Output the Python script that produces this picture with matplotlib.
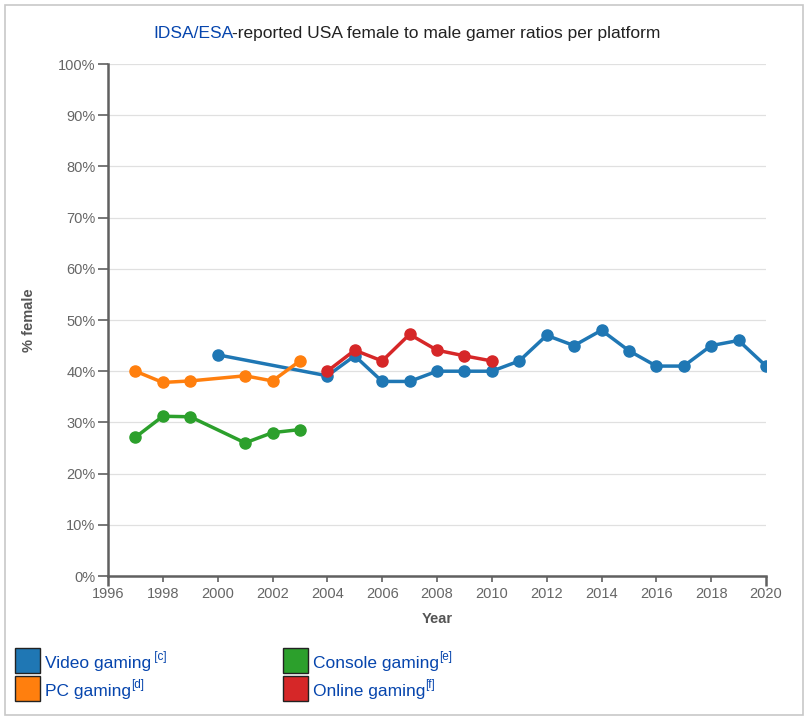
import matplotlib
matplotlib.use("Agg")
import matplotlib.pyplot as plt
from matplotlib.patches import Rectangle
from matplotlib.ticker import FuncFormatter

plt.rcParams['font.family'] = ['Liberation Sans', 'DejaVu Sans']

# ---- data ----
video_years = [2000, 2004, 2005, 2006, 2007, 2008, 2009, 2010, 2011, 2012, 2013, 2014, 2015, 2016, 2017, 2018, 2019, 2020]
video_vals = [43.2, 39.1, 43, 38, 38, 40, 40, 40, 42, 47, 45, 48, 44, 41, 41, 45, 46, 41]
pc_years = [1997, 1998, 1999, 2001, 2002, 2003]
pc_vals = [40, 37.8, 38.1, 39.1, 38.1, 42]
console_years = [1997, 1998, 1999, 2001, 2002, 2003]
console_vals = [27.1, 31.2, 31.1, 26, 28, 28.6]
online_years = [2004, 2005, 2006, 2007, 2008, 2009, 2010]
online_vals = [40, 44.1, 42, 47.2, 44.1, 43, 42]

series_names = ["Video gaming", "PC gaming", "Console gaming", "Online gaming"]
series_refs = [" [c]", "[d]", "[e]", "[f]"]
colors = ["#1f77b4", "#ff7f0e", "#2ca02c", "#d62728"]

title_link = "IDSA/ESA"
title_rest = "-reported USA female to male gamer ratios per platform"

x_ticks = list(range(1996, 2021, 2))
y_ticks = list(range(0, 101, 10))

W, H = 809, 722
fig = plt.figure(figsize=(W / 100, H / 100), dpi=100)

def fx(px):
    return px / W

def fy(py):
    return 1 - py / H

# outer border
fig.patches.append(Rectangle((fx(5), fy(715)), fx(798), (710) / H, transform=fig.transFigure,
                             fill=False, edgecolor="#c8c8c8", linewidth=1.2))

ax = fig.add_axes([fx(108), fy(576), fx(766 - 108), (576 - 64) / H])

data = [(video_years, video_vals), (pc_years, pc_vals), (console_years, console_vals), (online_years, online_vals)]
order = [1, 2, 0, 3]
for i in order:
    xs, ys = data[i]
    ax.plot(xs, ys, color=colors[i], lw=2.5, marker='o', ms=8, zorder=3 + i * 0.1,
            solid_joinstyle='round', solid_capstyle='round')

ax.set_xlim(1996, 2020)
ax.set_ylim(0, 100)
ax.set_xticks(x_ticks)
ax.set_yticks(y_ticks)
ax.yaxis.set_major_formatter(FuncFormatter(lambda v, p: f"{int(v)}%"))
ax.grid(axis='y', color='#e0e0e0', lw=0.9)
ax.set_axisbelow(True)
for s in ['top', 'right']:
    ax.spines[s].set_visible(False)
for s in ['left', 'bottom']:
    ax.spines[s].set_color('#606060')
    ax.spines[s].set_linewidth(1.8)
ax.tick_params(axis='y', length=7, width=1.2, color='#606060', labelcolor='#666666', labelsize=10.5, pad=2)
ax.tick_params(axis='x', length=4, width=1.2, color='#606060', labelcolor='#666666', labelsize=10.5, pad=4)
xt = ax.xaxis.get_major_ticks()
for t in (xt[0], xt[-1]):
    t.tick1line.set_markersize(7)
    t.tick1line.set_markeredgewidth(1.8)

ax.set_xlabel("Year", fontsize=10.5, fontweight='bold', color='#555555', labelpad=8)
ax.set_ylabel("% female", fontsize=10.5, fontweight='bold', color='#555555', labelpad=16)

# title (two colored pieces, centered together)
link = '#0645ad'
fig.canvas.draw()
r = fig.canvas.get_renderer()
t1 = fig.text(0, fy(38), title_link, color=link, fontsize=12.5, ha='left', va='baseline')
t2 = fig.text(0, fy(38), title_rest, color='#222222', fontsize=12.5, ha='left', va='baseline')
w1 = t1.get_window_extent(r).width
w2 = t2.get_window_extent(r).width
gap = -1.5
total = w1 + w2 + gap
x_start = 407 - total / 2
t1.set_position((fx(x_start), fy(38)))
t2.set_position((fx(x_start + w1 + gap), fy(38)))

# legend
leg_pos = {0: (15, 648), 1: (15, 676), 2: (283, 648), 3: (283, 676)}
for i in range(4):
    x0, y0 = leg_pos[i]
    fig.patches.append(Rectangle((fx(x0), fy(y0 + 25)), fx(25), 25 / H, transform=fig.transFigure,
                                 facecolor=colors[i], edgecolor='#222222', linewidth=1.0))
    tn = fig.text(fx(x0 + 30), fy(y0 + 20), series_names[i], color=link, fontsize=12.5,
                  ha='left', va='baseline')
    bbn = tn.get_window_extent(r)
    fig.text(bbn.x1 / fig.bbox.width, fy(y0 + 12), series_refs[i], color=link, fontsize=8.5,
             ha='left', va='baseline')

fig.savefig("out.png", dpi=100)
